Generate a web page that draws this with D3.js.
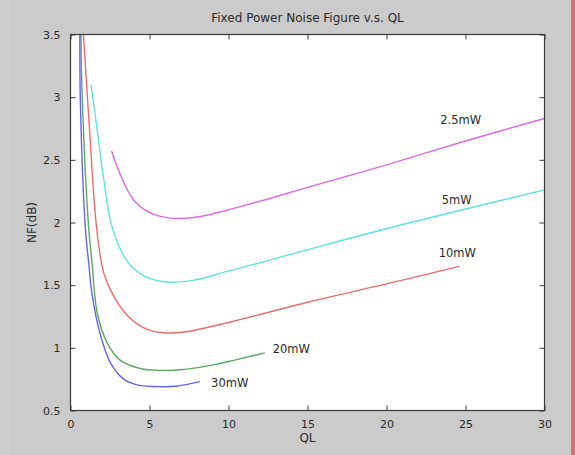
<!DOCTYPE html>
<html>
<head>
<meta charset="utf-8">
<script src="https://cdn.jsdelivr.net/npm/d3@7"></script>
<style>
  html, body { margin: 0; padding: 0; background: #cbcbcb; }
  svg { display: block; }
  text { font-family: "DejaVu Sans", "Liberation Sans", sans-serif; fill: #2a2a2a; }
</style>
</head>
<body>
<svg id="chart" width="575" height="455"></svg>
<script>
// Noise figure (dB) against loaded Q, one curve per fixed power level
const powerLabels = ["2.5mW", "5mW", "10mW", "20mW", "30mW"];
const seriesColors = ["#e06ae0", "#5ee4e4", "#f26a6a", "#5caa5c", "#6464ee"];

const ql_2p5mW = [2.6, 3.06, 3.59, 4.0, 4.43, 5.27, 6.33, 7.8, 8.86, 12, 15, 20, 25, 30];
const nf_2p5mW = [2.57, 2.41, 2.26, 2.18, 2.125, 2.065, 2.035, 2.04, 2.065, 2.17, 2.28, 2.46, 2.65, 2.83];

const ql_5mW = [1.3, 1.69, 2.11, 2.64, 3.59, 4.64, 6.12, 7.8, 9.92, 12, 15.2, 20.9, 30];
const nf_5mW = [3.1, 2.74, 2.34, 1.96, 1.69, 1.575, 1.525, 1.54, 1.61, 1.68, 1.79, 1.98, 2.26];

const ql_10mW = [0.82, 1.2, 1.65, 2.1, 2.74, 3.59, 4.64, 5.9, 7.39, 9.92, 15.2, 20, 24.6];
const nf_10mW = [3.5, 2.75, 1.96, 1.6, 1.41, 1.26, 1.16, 1.12, 1.13, 1.2, 1.37, 1.51, 1.65];

const ql_20mW = [0.66, 0.74, 1.16, 1.37, 1.69, 2.32, 3.16, 4.43, 5.7, 6.96, 8.86, 12.3];
const nf_20mW = [3.5, 3.01, 1.94, 1.67, 1.28, 1.04, 0.9, 0.835, 0.82, 0.825, 0.86, 0.96];

const ql_30mW = [0.59, 0.63, 0.95, 1.16, 1.37, 1.9, 2.53, 3.37, 4.22, 5.7, 6.75, 8.2];
const nf_30mW = [3.5, 2.93, 1.94, 1.67, 1.42, 1.1, 0.88, 0.75, 0.705, 0.69, 0.695, 0.73];

// where each power label sits, in data units
const labelQL = [23.4, 23.5, 23.3, 12.8, 8.9];
const labelNF = [2.82, 2.18, 1.76, 0.99, 0.72];

const xTicks = [0, 5, 10, 15, 20, 25, 30];
const yTicks = [0.5, 1, 1.5, 2, 2.5, 3, 3.5];
const yTickText = ["0.5", "1", "1.5", "2", "2.5", "3", "3.5"];

const series = [
  [ql_2p5mW, nf_2p5mW],
  [ql_5mW, nf_5mW],
  [ql_10mW, nf_10mW],
  [ql_20mW, nf_20mW],
  [ql_30mW, nf_30mW]
].map(([q, n], i) => ({
  label: powerLabels[i],
  color: seriesColors[i],
  points: q.map((v, j) => [v, n[j]])
}));

const svg = d3.select("#chart");
const plotLeft = 70.5, plotRight = 544.5, plotTop = 34.5, plotBottom = 410.5;

const x = d3.scaleLinear().domain([0, 30]).range([plotLeft, plotRight]);
const y = d3.scaleLinear().domain([0.5, 3.5]).range([plotBottom, plotTop]);

// figure frame edges
svg.append("rect").attr("x", 0).attr("y", 0).attr("width", 10).attr("height", 455).attr("fill", "#cfcfcf");
svg.append("rect").attr("x", 571).attr("y", 0).attr("width", 4).attr("height", 455).attr("fill", "#d27272");

// plot area
svg.append("rect")
  .attr("x", plotLeft).attr("y", plotTop)
  .attr("width", plotRight - plotLeft).attr("height", plotBottom - plotTop)
  .attr("fill", "#ffffff");

svg.append("clipPath").attr("id", "plotclip")
  .append("rect")
  .attr("x", plotLeft).attr("y", plotTop)
  .attr("width", plotRight - plotLeft).attr("height", plotBottom - plotTop);

const line = d3.line()
  .x(d => x(d[0]))
  .y(d => y(d[1]))
  .curve(d3.curveCatmullRom.alpha(0.5));

const curves = svg.append("g").attr("clip-path", "url(#plotclip)");
curves.selectAll("path")
  .data(series)
  .join("path")
  .attr("d", d => line(d.points))
  .attr("fill", "none")
  .attr("stroke", d => d.color)
  .attr("stroke-width", 1.4);

// axes: ticks point inward on all four sides
const axisColor = "#3a3a3a";
const tickLen = 5;

const bottomAxis = d3.axisBottom(x).tickValues(xTicks).tickFormat(d3.format("d"))
  .tickSizeInner(-tickLen).tickSizeOuter(0).tickPadding(10);
const leftAxis = d3.axisLeft(y).tickValues(yTicks).tickFormat((d, i) => yTickText[i])
  .tickSizeInner(-tickLen).tickSizeOuter(0).tickPadding(10);
const topAxis = d3.axisTop(x).tickValues(xTicks).tickFormat("")
  .tickSizeInner(-tickLen).tickSizeOuter(0);
const rightAxis = d3.axisRight(y).tickValues(yTicks).tickFormat("")
  .tickSizeInner(-tickLen).tickSizeOuter(0);

function styleAxis(g) {
  g.select(".domain").remove();
  g.selectAll(".tick line").attr("stroke", axisColor).attr("stroke-width", 1);
  g.selectAll(".tick text").style("font-size", "11px").attr("fill", "#2a2a2a");
}

svg.append("g").attr("transform", `translate(0,${plotBottom})`).call(bottomAxis).call(styleAxis);
svg.append("g").attr("transform", `translate(${plotLeft},0)`).call(leftAxis).call(styleAxis);
svg.append("g").attr("transform", `translate(0,${plotTop})`).call(topAxis).call(styleAxis);
svg.append("g").attr("transform", `translate(${plotRight},0)`).call(rightAxis).call(styleAxis);

// box outline
svg.append("rect")
  .attr("x", plotLeft).attr("y", plotTop)
  .attr("width", plotRight - plotLeft).attr("height", plotBottom - plotTop)
  .attr("fill", "none").attr("stroke", axisColor).attr("stroke-width", 1.2);

// curve labels
svg.append("g").selectAll("text")
  .data(series)
  .join("text")
  .attr("x", (d, i) => x(labelQL[i]))
  .attr("y", (d, i) => y(labelNF[i]))
  .attr("dy", "0.35em")
  .style("font-size", "11.5px")
  .text(d => d.label);

// title and axis labels
svg.append("text")
  .attr("x", (plotLeft + plotRight) / 2).attr("y", 22)
  .attr("text-anchor", "middle")
  .style("font-size", "12px")
  .text("Fixed Power Noise Figure v.s. QL");

svg.append("text")
  .attr("x", (plotLeft + plotRight) / 2).attr("y", 442)
  .attr("text-anchor", "middle")
  .style("font-size", "12px")
  .text("QL");

svg.append("text")
  .attr("transform", `translate(36,${(plotTop + plotBottom) / 2}) rotate(-90)`)
  .attr("text-anchor", "middle")
  .style("font-size", "12px")
  .text("NF(dB)");
</script>
</body>
</html>
